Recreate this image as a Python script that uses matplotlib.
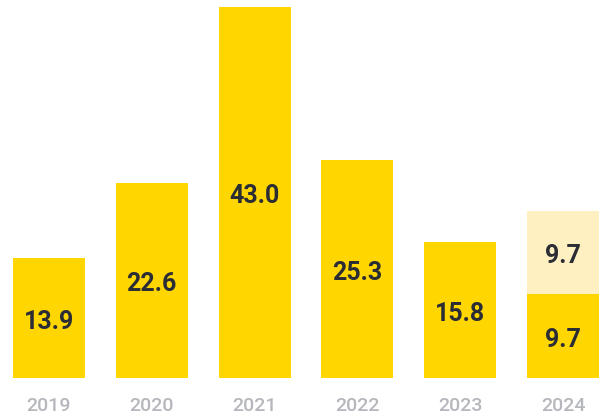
import matplotlib.pyplot as plt
import numpy as np

years = ['2019', '2020', '2021', '2022', '2023', '2024']
values = [13.9, 22.6, 43.0, 25.3, 15.8, 9.7]
extra = [0, 0, 0, 0, 0, 9.7]  # gorny, jasny segment tylko w 2024

yellow = '#FFD600'
light = '#FFF0C2'
dark = '#2A2D34'
gray = '#B5B7BC'
num_font = ['Roboto', 'DejaVu Sans']

fig = plt.figure(figsize=(6.01, 4.19), dpi=100)
ax = fig.add_axes([0, 0, 1, 1])
x = np.arange(len(years))

ax.bar(x, values, width=0.7, color=yellow, linewidth=0)
ax.bar(x, extra, width=0.7, bottom=values, color=light, linewidth=0)

off = 0.45  # tekst lekko ponizej srodka slupka
for i, v in enumerate(values):
    ax.text(x[i], v / 2 - off, f'{v:.1f}', ha='center', va='center', fontsize=18,
            fontweight='bold', color=dark, family=num_font)
    if extra[i] > 0:
        ax.text(x[i], v + extra[i] / 2 - off, f'{extra[i]:.1f}', ha='center', va='center',
                fontsize=18, fontweight='bold', color=dark, family=num_font)
    ax.text(x[i], -3.3, years[i], ha='center', va='center', fontsize=14,
            fontweight='medium', color=gray, family=num_font)

ax.set_xlim(-0.476, 5.369)
ax.set_ylim(-4.75, 43.81)
ax.axis('off')

fig.savefig('out.png', dpi=100)
